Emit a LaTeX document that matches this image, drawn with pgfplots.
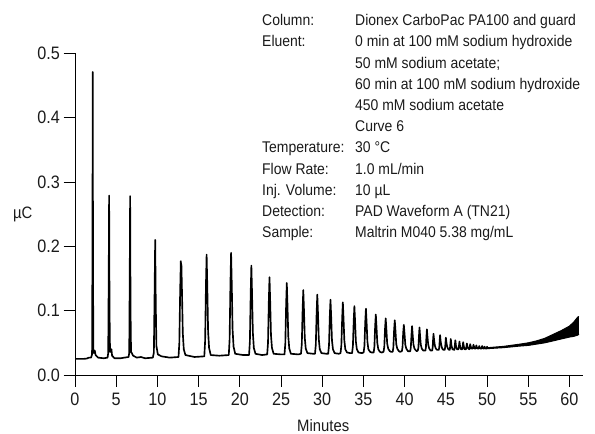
\documentclass[border=0pt]{standalone}
\usepackage{pgfplots}
\pgfplotsset{compat=1.18}
\usepgfplotslibrary{fillbetween}
\usepackage{fontspec}
\setmainfont{Liberation Sans}[FakeStretch=0.9]
\definecolor{txt}{HTML}{1A1A1A}
\begin{document}
\begin{tikzpicture}
\begin{axis}[
  name=ax,
  scale only axis,
  width=508bp, height=321.7bp,
  xmin=0, xmax=61.64, ymin=0, ymax=0.5,
  axis lines=left,
  axis line style={-, line width=0.9bp, black},
  tick style={line width=0.9bp, black},
  tick align=outside,
  major tick length=11.5bp,
  xtick={0,5,...,60},
  ytick={0,0.1,...,0.5},
  /pgf/number format/assume math mode=true,
  ticklabel style={font=\fontsize{18bp}{20bp}\selectfont, text=txt},
  xticklabel style={yshift=-3bp},
  yticklabel style={/pgf/number format/fixed, /pgf/number format/fixed zerofill, /pgf/number format/precision=1},
  every axis x label/.style={at={(axis description cs:0.4886,-0.158)}, anchor=center},
  every axis y label/.style={at={(axis description cs:-0.103,0.5)}, anchor=center},
  xlabel={Minutes}, ylabel={µC},
  label style={font=\fontsize{16.5bp}{18bp}\selectfont, text=txt},
]
\addplot[black, line width=1.65bp, line join=round] coordinates {
(0,0.025) (1.0,0.025) (1.4,0.0255) (1.7,0.027) (1.95,0.027) (2.07,0.032) (2.12,0.2) (2.15,0.471) (2.19,0.15) (2.23,0.04) (2.3,0.034) (2.4,0.038) (2.5,0.031) (2.8,0.027) (3.5,0.026) (3.95,0.027)
(4.03,0.034) (4.09,0.15) (4.14,0.279) (4.19,0.10) (4.25,0.036) (4.35,0.036) (4.42,0.04) (4.5,0.03) (4.8,0.026) (5.5,0.026) (6.0,0.027) (6.5,0.028)
(6.58,0.034) (6.64,0.15) (6.69,0.278) (6.74,0.10) (6.8,0.036) (6.9,0.034) (7.05,0.03) (7.5,0.027) (8.0,0.028) (8.5,0.026) (9.45,0.027)
(9.57,0.035) (9.66,0.13) (9.73,0.210) (9.8,0.11) (9.88,0.045) (10.05,0.032) (10.5,0.029) (11.5,0.027)
(12.56,0.028) (12.66,0.05) (12.76,0.13) (12.84,0.177) (12.88,0.169) (12.91,0.172) (12.98,0.13) (13.08,0.065) (13.2,0.04) (13.4,0.031) (14.5,0.028)
(15.69,0.029) (15.79,0.053) (15.89,0.14) (15.97,0.187) (16.05,0.14) (16.15,0.068) (16.27,0.042) (16.47,0.031) (17.5,0.03)
(18.66,0.031) (18.76,0.055) (18.86,0.142) (18.94,0.190) (19.02,0.142) (19.12,0.071) (19.24,0.044) (19.44,0.033) (20.4,0.031)
(21.12,0.031) (21.22,0.052) (21.32,0.128) (21.4,0.170) (21.48,0.128) (21.58,0.066) (21.7,0.042) (21.9,0.033) (22.7,0.031)
(23.32,0.032) (23.42,0.05) (23.52,0.116) (23.6,0.152) (23.68,0.116) (23.78,0.062) (23.9,0.042) (24.1,0.033) (25.0,0.032)
(25.42,0.032) (25.52,0.049) (25.62,0.11) (25.7,0.143) (25.78,0.11) (25.88,0.06) (26.0,0.041) (26.2,0.033) (27.1,0.032)
(27.42,0.033) (27.52,0.048) (27.62,0.102) (27.7,0.132) (27.78,0.102) (27.88,0.058) (28.0,0.041) (28.2,0.034) (28.9,0.033)
(29.12,0.033) (29.22,0.047) (29.32,0.097) (29.4,0.125) (29.48,0.097) (29.58,0.056) (29.7,0.040) (29.9,0.034) (30.5,0.033)
(30.72,0.033) (30.82,0.046) (30.92,0.092) (31.0,0.117) (31.08,0.092) (31.18,0.054) (31.3,0.040) (31.5,0.034) (32.0,0.033)
(32.22,0.034) (32.32,0.046) (32.42,0.089) (32.5,0.113) (32.58,0.089) (32.68,0.054) (32.8,0.040) (33.0,0.035) (33.4,0.034)
(33.62,0.034) (33.72,0.045) (33.82,0.085) (33.9,0.107) (33.98,0.085) (34.08,0.052) (34.2,0.040) (34.4,0.035) (34.8,0.034)
(35.02,0.035) (35.12,0.045) (35.22,0.083) (35.3,0.103) (35.38,0.083) (35.48,0.052) (35.6,0.040) (35.8,0.036) (36.0,0.035)
(36.24,0.035) (36.33,0.044) (36.42,0.076) (36.5,0.094) (36.58,0.076) (36.68,0.050) (36.8,0.040) (37.0,0.036) (37.22,0.035)
(37.44,0.036) (37.53,0.044) (37.62,0.072) (37.7,0.088) (37.78,0.072) (37.88,0.049) (38.0,0.041) (38.2,0.037) (38.35,0.036)
(38.55,0.036) (38.63,0.043) (38.72,0.070) (38.8,0.085) (38.88,0.070) (38.98,0.048) (39.1,0.041) (39.3,0.037) (39.45,0.036)
(39.66,0.037) (39.74,0.043) (39.82,0.065) (39.9,0.078) (39.98,0.065) (40.08,0.047) (40.2,0.041) (40.4,0.037) (40.5,0.037)
(40.68,0.037) (40.75,0.043) (40.83,0.063) (40.9,0.076) (40.97,0.063) (41.07,0.047) (41.19,0.041) (41.38,0.038) (41.45,0.037)
(41.6,0.038) (41.67,0.043) (41.74,0.061) (41.8,0.074) (41.87,0.061) (41.96,0.047) (42.08,0.041) (42.25,0.038) (42.35,0.038)
(42.52,0.038) (42.58,0.043) (42.64,0.059) (42.7,0.071) (42.77,0.059) (42.86,0.047) (42.98,0.041) (43.15,0.038) (43.22,0.038)
(43.34,0.038) (43.4,0.043) (43.45,0.055) (43.5,0.064) (43.57,0.055) (43.66,0.046) (43.78,0.041) (43.95,0.039) (44.05,0.039)
(44.14,0.039) (44.2,0.043) (44.25,0.053) (44.3,0.062) (44.36,0.053) (44.45,0.046) (44.56,0.041) (44.72,0.039) (44.78,0.039)
(44.86,0.039) (44.91,0.043) (44.96,0.051) (45.0,0.058) (45.06,0.051) (45.14,0.045) (45.25,0.041) (45.4,0.039)
(45.48,0.039) (45.6,0.056) (45.68,0.046) (45.8,0.040)
(46.03,0.039) (46.15,0.054) (46.23,0.045) (46.35,0.040)
(46.54,0.040) (46.65,0.052) (46.72,0.045) (46.84,0.040)
(47.0,0.040) (47.1,0.051) (47.17,0.045) (47.28,0.040)
(47.45,0.040) (47.55,0.049) (47.62,0.044) (47.72,0.041)
(47.86,0.040) (47.95,0.048) (48.02,0.044) (48.12,0.041)
(48.26,0.041) (48.35,0.047) (48.42,0.044) (48.5,0.041)
(48.62,0.041) (48.7,0.046) (48.76,0.043) (48.85,0.041)
(48.98,0.041) (49.05,0.045) (49.11,0.043) (49.2,0.041)
(49.33,0.041) (49.4,0.045) (49.46,0.043) (49.55,0.041)
(49.64,0.041) (49.7,0.044) (49.76,0.042) (49.85,0.041)
(49.94,0.041) (50.0,0.044) (50.06,0.042) (50.15,0.041)
};
\addplot[name path=up, black, line width=1bp] coordinates {
(50.1,0.0425) (52,0.0445) (54,0.048) (55,0.050) (56,0.053) (57,0.057) (58,0.063) (59,0.069) (60,0.076) (60.5,0.082) (61.0,0.090) (61.15,0.091)
};
\addplot[name path=lo, black, line width=1bp] coordinates {
(50.1,0.041) (52,0.0425) (54,0.045) (55,0.046) (56,0.048) (57,0.050) (58,0.053) (59,0.056) (60,0.059) (60.5,0.060) (61.0,0.062) (61.15,0.064)
};
\addplot[black] fill between[of=up and lo];
\end{axis}
\node[anchor=base west, inner sep=0pt, text=txt, font=\fontsize{15.5bp}{21.2bp}\selectfont]
  at ([shift={(187bp,349.3bp)}]ax.south west) {%
  \begin{tabular}[t]{@{}l@{}}
  Column:\\ Eluent:\\ \\ \\ \\ \\ Temperature:\\ Flow Rate:\\ Inj. Volume:\\ Detection:\\ Sample:
  \end{tabular}};
\node[anchor=base west, inner sep=0pt, text=txt, font=\fontsize{15.5bp}{21.2bp}\selectfont]
  at ([shift={(280bp,349.3bp)}]ax.south west) {%
  \begin{tabular}[t]{@{}l@{}}
  Dionex CarboPac PA100 and guard\\ 0 min at 100 mM sodium hydroxide\\ 50 mM sodium acetate;\\ 60 min at 100 mM sodium hydroxide\\ 450 mM sodium acetate\\ Curve 6\\ 30 °C\\ 1.0 mL/min\\ 10 µL\\ PAD Waveform A (TN21)\\ Maltrin M040 5.38 mg/mL
  \end{tabular}};
\pgfresetboundingbox
\path ([shift={(-75bp,-59bp)}]ax.south west) rectangle ++(595bp,434bp);
\end{tikzpicture}
\end{document}
